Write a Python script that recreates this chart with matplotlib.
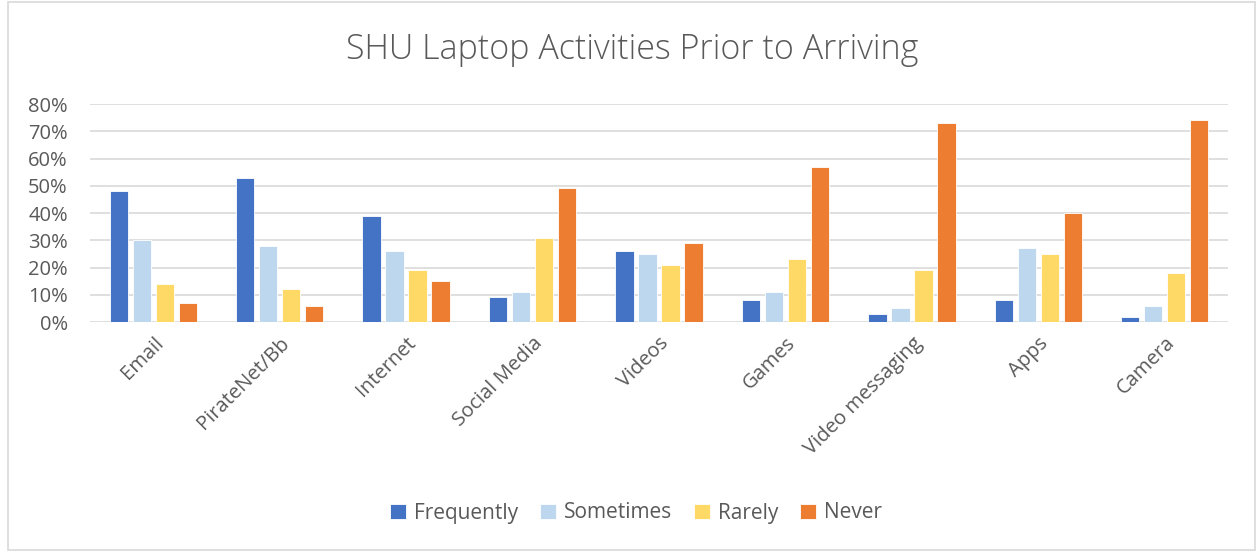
import matplotlib.pyplot as plt
import numpy as np
from matplotlib.ticker import PercentFormatter

categories = ["Email", "PirateNet/Bb", "Internet", "Social Media", "Videos",
              "Games", "Video messaging", "Apps", "Camera"]
frequently = [48, 53, 39, 9, 26, 8, 3, 8, 2]
sometimes = [30, 28, 26, 11, 25, 11, 5, 27, 6]
rarely = [14, 12, 19, 31, 21, 23, 19, 25, 18]
never = [7, 6, 15, 49, 29, 57, 73, 40, 74]

series = [("Frequently", frequently, "#4472c4"),
          ("Sometimes", sometimes, "#bdd7ee"),
          ("Rarely", rarely, "#ffd966"),
          ("Never", never, "#ed7d31")]

plt.rcParams['font.family'] = ['Open Sans', 'DejaVu Sans']
text_color = "#595959"

fig = plt.figure(figsize=(12.6, 5.52), dpi=100)
ax = fig.add_axes([90 / 1260, 1 - 322 / 552, (1228 - 90) / 1260, (322 - 104) / 552])

x = np.arange(len(categories))
step = 0.182
width = 0.145
for i, (name, vals, color) in enumerate(series):
    ax.bar(x + (i - 1.5) * step, vals, width, color=color, label=name,
           edgecolor="white", linewidth=0.6, zorder=3)

ax.set_xlim(-0.5, len(categories) - 0.5)
ax.set_ylim(0, 80)
ax.set_yticks(range(0, 81, 10))
ax.yaxis.set_major_formatter(PercentFormatter(decimals=0))
ax.grid(axis="y", color="#d9d9d9", linewidth=1.2, zorder=0)
for s in ax.spines.values():
    s.set_visible(False)
ax.tick_params(axis="both", length=0, colors=text_color, labelsize=14.5)
ax.tick_params(axis="y", pad=16)
ax.set_xticks(x)
ax.set_xticklabels(categories, rotation=45, ha="right", rotation_mode="anchor")
ax.tick_params(axis="x", pad=8)

fig.text(0.502, 1 - 50 / 552, "SHU Laptop Activities Prior to Arriving",
         ha="center", va="center", fontsize=24.5, color=text_color,
         fontweight="light")

fig.legend(loc="center", bbox_to_anchor=(0.505, 1 - 513 / 552), ncol=4,
           frameon=False, fontsize=15, labelcolor=text_color,
           handlelength=0.75, handleheight=0.75, handletextpad=0.4,
           columnspacing=1.05)

border = plt.Rectangle((0.006, 0.004), 0.99, 0.992, transform=fig.transFigure,
                       fill=False, edgecolor="#d9d9d9", linewidth=1.2)
fig.patches.append(border)

fig.savefig("out.png", dpi=100)
